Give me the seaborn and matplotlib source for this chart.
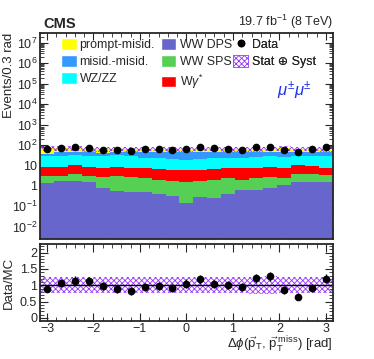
import numpy as np
import pandas as pd
import matplotlib
matplotlib.use("Agg")
import matplotlib.pyplot as plt
import matplotlib.ticker as mticker
from matplotlib.patches import Patch
from matplotlib.lines import Line2D
import seaborn as sns

# bin centers of delta phi (0.3 rad bins from -3.15 to 3.15)
bin_centers = [-3.0, -2.7, -2.4, -2.1, -1.8, -1.5, -1.2, -0.9, -0.6, -0.3, 0.0,
               0.3, 0.6, 0.9, 1.2, 1.5, 1.8, 2.1, 2.4, 2.7, 3.0]

# stacked backgrounds / signals (events per bin)
ww_dps = [1.33, 1.78, 1.78, 1.6, 0.75, 0.58, 0.53, 0.48, 0.38, 0.32, 0.14,
          0.30, 0.26, 0.40, 0.62, 0.65, 0.75, 1.1, 1.6, 1.6, 1.6]
ww_sps = [1.8, 1.3, 1.9, 1.5, 2.05, 2.5, 2.3, 1.9, 1.6, 1.5, 1.5,
          1.5, 1.65, 2.0, 1.4, 1.85, 2.05, 1.4, 2.05, 2.05, 1.8]
w_gamma = [5.5, 5.5, 6.8, 5.5, 4.4, 5.5, 5.1, 4.9, 4.9, 4.2, 4.35,
           4.2, 4.5, 4.9, 5.2, 5.2, 5.8, 4.7, 6.8, 6.1, 3.8]
wz_zz = [21.2, 21.4, 20.5, 21.4, 22.8, 22.4, 22.1, 16.7, 15.1, 14.0, 12.4,
         14.0, 15.6, 16.7, 16.8, 19.3, 19.4, 19.8, 19.5, 20.2, 20.8]
misid_misid = [5.1, 17, 16, 14, 12, 13, 14, 24, 26, 26, 25.6,
               26, 25, 22, 20, 17, 16, 18, 16, 16, 16]
prompt_misid = [33, 22, 22, 20, 20, 20, 20, 18, 18, 18, 18,
                18, 18, 18, 18, 20, 22, 23, 20, 20, 20]

# observed data counts
data_counts = [61, 74, 79, 72, 60, 56, 53, 63, 65, 58, 65,
               76, 68, 65, 59, 78, 84, 58, 43, 61, 77]

# relative stat+syst uncertainty of the prediction
rel_unc = [0.25, 0.24, 0.24, 0.25, 0.25, 0.24, 0.25, 0.25, 0.24, 0.25, 0.25,
           0.24, 0.25, 0.25, 0.25, 0.26, 0.27, 0.25, 0.24, 0.25, 0.25]

processes = ["prompt-misid.", "misid.-misid.", "WZ/ZZ", "W$\\gamma^{*}$", "WW SPS", "WW DPS"]
colors = {"prompt-misid.": "#ffff00", "misid.-misid.": "#3399ff", "WZ/ZZ": "#00ffff",
          "W$\\gamma^{*}$": "#ff0000", "WW SPS": "#55d055", "WW DPS": "#6666cc"}
hatch_col = "#9933ff"

sns.set_style("ticks")
plt.rcParams["font.family"] = ["Liberation Sans", "DejaVu Sans"]
plt.rcParams["mathtext.fontset"] = "custom"
plt.rcParams["mathtext.rm"] = "Liberation Sans"
plt.rcParams["mathtext.it"] = "Liberation Sans:italic"
plt.rcParams["hatch.linewidth"] = 0.6
plt.rcParams["font.size"] = 9

series = {"prompt-misid.": prompt_misid, "misid.-misid.": misid_misid, "WZ/ZZ": wz_zz,
          "W$\\gamma^{*}$": w_gamma, "WW SPS": ww_sps, "WW DPS": ww_dps}
rows = []
for p in processes:
    for x, w in zip(bin_centers, series[p]):
        rows.append({"dphi": x, "events": w, "process": p})
df = pd.DataFrame(rows)

centers = np.array(bin_centers)
total = sum(np.array(series[p]) for p in processes)
data = np.array(data_counts)
unc = np.array(rel_unc)

fig = plt.figure(figsize=(3.74, 3.59), dpi=100)
ax = fig.add_axes([0.107, 0.334, 0.783, 0.574])
rax = fig.add_axes([0.107, 0.107, 0.783, 0.212])

sns.histplot(data=df, x="dphi", weights="events", hue="process", hue_order=processes,
             palette=colors, multiple="stack", element="step", fill=True,
             binwidth=0.3, binrange=(-3.15, 3.15), alpha=1, linewidth=0,
             legend=False, ax=ax)
ax.set_yscale("log")

# uncertainty band
ax.bar(centers, 2 * unc * total, bottom=total * (1 - unc), width=0.3,
       facecolor="none", edgecolor=hatch_col, hatch="xxxxxx", linewidth=0)
ax.errorbar(centers, data, yerr=np.sqrt(data), fmt="o", color="black",
            markersize=4.5, elinewidth=1, capsize=0)

ax.set_xlim(-3.15, 3.15)
ax.set_ylim(2.5e-3, 3e7)
ax.set_xlabel("")
ax.set_ylabel("Events/0.3 rad", fontsize=9.5, loc="top")
ax.yaxis.set_label_coords(-0.085, 1.0)


def log_fmt(v, pos):
    e = int(round(np.log10(v)))
    if e == 0:
        return "1"
    if e == 1:
        return "10"
    return "$10^{%d}$" % e


ax.yaxis.set_major_locator(mticker.LogLocator(base=10, numticks=20))
ax.yaxis.set_major_formatter(mticker.FuncFormatter(log_fmt))
ax.yaxis.set_minor_locator(mticker.LogLocator(base=10, subs=np.arange(2, 10), numticks=20))
ax.yaxis.set_minor_formatter(mticker.NullFormatter())
ax.xaxis.set_major_locator(mticker.MultipleLocator(1))
ax.xaxis.set_minor_locator(mticker.MultipleLocator(0.2))

# ratio panel
ratio = data / total
ratio_err = np.sqrt(data) / total
rax.bar(centers, 2 * unc, bottom=1 - unc, width=0.3, facecolor="none",
        edgecolor=hatch_col, hatch="xxxxxx", linewidth=0)
rax.axhline(1, color="black", linewidth=1)
rax.errorbar(centers, ratio, yerr=ratio_err, fmt="o", color="black",
             markersize=4.5, elinewidth=1, capsize=0)
rax.set_xlim(-3.15, 3.15)
rax.set_ylim(-0.08, 2.25)
rax.set_ylabel("Data/MC", fontsize=9.5)
rax.yaxis.set_label_coords(-0.085, 0.5)
rax.set_xlabel(r"$\Delta\phi(\vec{\mathrm{p}}_{\mathrm{T}},\,\vec{\mathrm{p}}_{\mathrm{T}}^{\,\mathrm{miss}})$ [rad]",
               fontsize=9.5, loc="right")
rax.xaxis.set_label_coords(1.0, -0.19)
rax.xaxis.label.set_va("top")
rax.yaxis.set_major_locator(mticker.FixedLocator([0, 0.5, 1, 1.5, 2]))
rax.yaxis.set_major_formatter(mticker.FixedFormatter(["0", "0.5", "1", "1.5", "2"]))
rax.yaxis.set_minor_locator(mticker.MultipleLocator(0.1))
rax.xaxis.set_major_locator(mticker.MultipleLocator(1))
rax.xaxis.set_minor_locator(mticker.MultipleLocator(0.2))
rax.xaxis.set_major_formatter(mticker.FuncFormatter(lambda v, p: "%d" % v if v >= 0 else "\u2212%d" % -v))

for a in (ax, rax):
    a.tick_params(which="both", direction="in", top=True, right=True, labelsize=9, pad=2)
    a.tick_params(which="major", length=6)
    a.tick_params(which="minor", length=3)
    for s in a.spines.values():
        s.set_linewidth(1.3)
ax.tick_params(axis="x", which="major", length=5)
ax.tick_params(axis="x", which="both", labelbottom=False)

# legend, one column at a time
leg_cols = [
    ([Patch(facecolor=colors["prompt-misid."]), Patch(facecolor=colors["misid.-misid."]),
      Patch(facecolor=colors["WZ/ZZ"])],
     ["prompt-misid.", "misid.-misid.", "WZ/ZZ"], 0.072),
    ([Patch(facecolor=colors["WW DPS"]), Patch(facecolor=colors["WW SPS"]),
      Patch(facecolor=colors["W$\\gamma^{*}$"])],
     ["WW DPS", "WW SPS", "W$\\gamma^{*}$"], 0.413),
    ([Line2D([], [], marker="o", color="black", markersize=4.5, linestyle="none"),
      Patch(facecolor="white", edgecolor=hatch_col, hatch="xxxxxx", linewidth=0.5)],
     ["Data", "Stat \u2295 Syst"], 0.659),
]
for hnd, lab, xpos in leg_cols:
    leg = ax.legend(hnd, lab, loc="upper left", bbox_to_anchor=(xpos, 0.975),
                    frameon=False, fontsize=8.9, handlelength=1.25, handleheight=1.05,
                    handletextpad=0.25, labelspacing=0.34, borderaxespad=0, borderpad=0)
    ax.add_artist(leg)

fig.text(0.115, 0.915, "CMS", fontsize=10.5, fontweight="bold", ha="left", va="bottom")
fig.text(0.89, 0.915, "19.7 fb$^{-1}$ (8 TeV)", fontsize=9, ha="right", va="bottom")
ax.text(0.93, 0.72, r"$\mu^{\pm}\mu^{\pm}$", color="#2233ee", fontsize=12,
        transform=ax.transAxes, ha="right", va="center")

fig.savefig("out.png", dpi=100)
